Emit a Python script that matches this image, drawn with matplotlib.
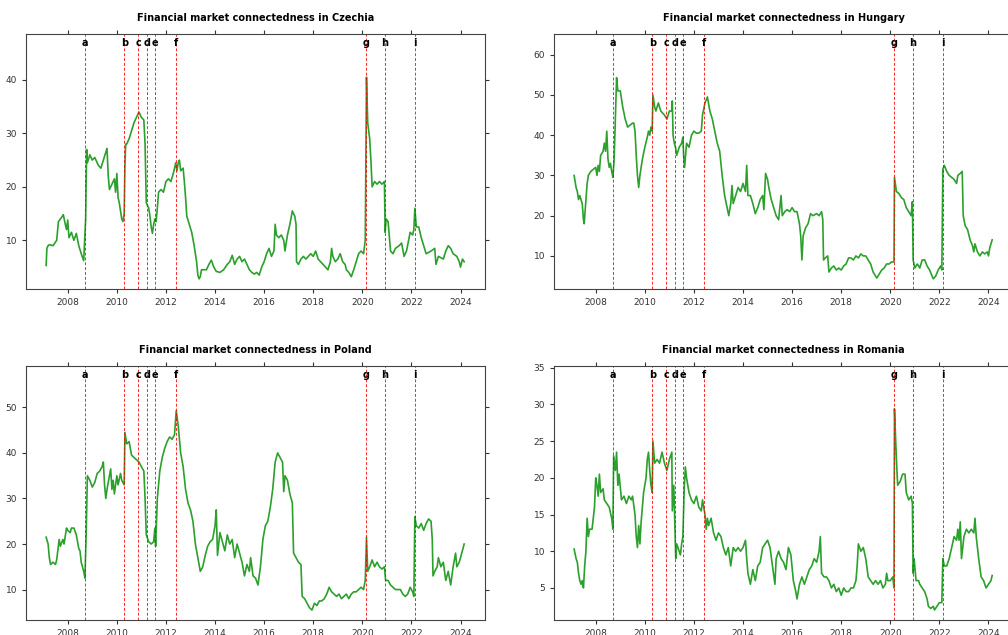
import matplotlib
matplotlib.use("Agg")
import matplotlib.pyplot as plt

# weekly connectedness index, sampled (decimal year, value)
cz_t = [2007.12, 2007.15, 2007.2, 2007.25, 2007.4, 2007.55, 2007.62, 2007.75, 2007.82, 2007.9,
        2007.95, 2008.0, 2008.05, 2008.15, 2008.25, 2008.35, 2008.45, 2008.55, 2008.65, 2008.7,
        2008.73, 2008.77, 2008.8, 2008.9, 2009.0, 2009.1, 2009.25, 2009.35, 2009.45, 2009.55,
        2009.6, 2009.65, 2009.7, 2009.8, 2009.9, 2009.95, 2010.0, 2010.05, 2010.1, 2010.15,
        2010.2, 2010.25, 2010.3, 2010.33, 2010.36, 2010.4, 2010.5, 2010.6, 2010.7, 2010.8,
        2010.9, 2011.0, 2011.1, 2011.15, 2011.2, 2011.25, 2011.3, 2011.35, 2011.4, 2011.45,
        2011.5, 2011.55, 2011.6, 2011.65, 2011.7, 2011.8, 2011.9, 2012.0, 2012.1, 2012.2,
        2012.3, 2012.4, 2012.45, 2012.5, 2012.55, 2012.6, 2012.7, 2012.75, 2012.8, 2012.85,
        2012.95, 2013.05, 2013.15, 2013.25, 2013.3, 2013.35, 2013.4, 2013.45, 2013.55, 2013.65,
        2013.75, 2013.85, 2013.95, 2014.05, 2014.2, 2014.35, 2014.5, 2014.6, 2014.7, 2014.8,
        2014.9, 2015.0, 2015.1, 2015.2, 2015.3, 2015.4, 2015.5, 2015.6, 2015.7, 2015.8,
        2015.9, 2016.0, 2016.1, 2016.2, 2016.3, 2016.4, 2016.45, 2016.5, 2016.6, 2016.7,
        2016.8, 2016.85, 2016.95, 2017.05, 2017.15, 2017.25, 2017.3, 2017.32, 2017.4, 2017.5,
        2017.6, 2017.7, 2017.8, 2017.9, 2018.0, 2018.1, 2018.2, 2018.3, 2018.4, 2018.5,
        2018.6, 2018.7, 2018.75, 2018.8, 2018.9, 2019.0, 2019.1, 2019.2, 2019.3, 2019.35,
        2019.45, 2019.55, 2019.65, 2019.75, 2019.85, 2019.95, 2020.05, 2020.12, 2020.17, 2020.22,
        2020.3, 2020.35, 2020.4, 2020.5, 2020.6, 2020.7, 2020.8, 2020.9, 2020.93, 2020.97,
        2021.05, 2021.15, 2021.25, 2021.35, 2021.5, 2021.6, 2021.7, 2021.8, 2021.95, 2022.05,
        2022.1, 2022.14, 2022.2, 2022.3, 2022.4, 2022.5, 2022.6, 2022.8, 2022.95, 2023.0,
        2023.1, 2023.3, 2023.4, 2023.5, 2023.6, 2023.7, 2023.85, 2023.95, 2024.0, 2024.08,
        2024.15]
cz_v = [5.3, 8.5, 9.0, 9.2, 9.0, 10.0, 13.5, 14.3, 14.8, 13.0,
        12.0, 13.8, 10.5, 11.5, 10.0, 11.3, 9.0, 7.5, 6.2, 11.0,
        14.0, 27.0, 24.5, 26.0, 25.0, 25.5, 24.0, 23.5, 25.0, 26.5,
        27.2, 22.0, 19.5, 20.5, 21.5, 19.0, 22.5, 18.0, 17.0, 15.5,
        14.0, 13.5, 15.0, 24.0, 28.0, 28.0, 29.0, 30.5, 32.0, 33.0,
        34.0, 33.0, 32.5, 28.0, 17.0, 16.5, 16.0, 14.5, 12.5, 11.3,
        13.0, 14.0, 13.5, 16.0, 19.0, 19.5, 19.0, 21.0, 21.5, 21.0,
        22.5, 24.5, 23.0, 24.5, 25.0, 23.0, 23.5, 21.0, 18.0, 14.5,
        13.0, 11.5, 9.0, 6.0, 3.5, 2.8, 3.2, 4.5, 4.5, 4.5,
        5.5, 6.3, 5.0, 4.2, 4.0, 4.5, 5.5, 6.0, 7.2, 5.5,
        6.5, 7.0, 6.0, 6.5, 5.5, 4.5, 4.0, 3.7, 4.0, 3.5,
        5.0, 6.0, 7.5, 8.5, 7.0, 8.0, 13.0, 11.0, 10.5, 11.0,
        10.0, 8.0, 11.0, 13.0, 15.5, 14.5, 13.0, 6.0, 5.5, 6.5,
        7.0, 6.5, 7.0, 7.5, 7.0, 8.0, 6.5, 6.0, 5.5, 5.0,
        4.5, 6.0, 8.5, 7.0, 6.0, 6.5, 7.5, 6.0, 5.5, 4.5,
        4.0, 3.2, 4.5, 6.0, 7.5, 8.0, 7.5, 10.0, 40.5, 32.0,
        29.0, 25.0, 20.0, 21.0, 20.5, 21.0, 20.5, 21.0, 11.5, 14.0,
        13.5, 8.0, 7.5, 8.5, 9.0, 9.5, 7.0, 8.0, 11.5, 11.0,
        12.0, 16.0, 12.5, 12.5, 10.5, 9.0, 7.5, 8.0, 8.5, 5.5,
        7.0, 6.5, 8.0, 9.0, 8.5, 7.5, 7.0, 6.0, 5.0, 6.5,
        6.0]

hu_t = [2007.12, 2007.2, 2007.25, 2007.3, 2007.35, 2007.45, 2007.5, 2007.53, 2007.6, 2007.65,
        2007.7, 2007.8, 2007.9, 2008.0, 2008.05, 2008.1, 2008.15, 2008.2, 2008.3, 2008.35,
        2008.4, 2008.45, 2008.5, 2008.55, 2008.6, 2008.65, 2008.7, 2008.75, 2008.8, 2008.85,
        2008.9, 2009.0, 2009.1, 2009.2, 2009.3, 2009.4, 2009.5, 2009.55, 2009.6, 2009.65,
        2009.7, 2009.75, 2009.8, 2009.9, 2010.0, 2010.1, 2010.15, 2010.2, 2010.25, 2010.3,
        2010.33, 2010.4, 2010.45, 2010.55, 2010.65, 2010.8, 2010.9, 2011.0, 2011.1, 2011.12,
        2011.15, 2011.2, 2011.25, 2011.3, 2011.4, 2011.5, 2011.55, 2011.58, 2011.62, 2011.7,
        2011.8, 2011.9, 2012.0, 2012.1, 2012.2, 2012.3, 2012.35, 2012.45, 2012.55, 2012.65,
        2012.75, 2012.85, 2012.95, 2013.05, 2013.15, 2013.25, 2013.35, 2013.42, 2013.5, 2013.55,
        2013.6, 2013.7, 2013.8, 2013.9, 2014.0, 2014.1, 2014.15, 2014.2, 2014.3, 2014.4,
        2014.5, 2014.6, 2014.7, 2014.8, 2014.85, 2014.92, 2015.0, 2015.05, 2015.15, 2015.25,
        2015.35, 2015.45, 2015.5, 2015.55, 2015.6, 2015.7, 2015.8, 2015.9, 2016.0, 2016.1,
        2016.2, 2016.3, 2016.35, 2016.4, 2016.45, 2016.55, 2016.65, 2016.75, 2016.85, 2017.0,
        2017.1, 2017.2, 2017.25, 2017.28, 2017.35, 2017.45, 2017.5, 2017.6, 2017.7, 2017.8,
        2017.9, 2018.0, 2018.1, 2018.2, 2018.3, 2018.4, 2018.5, 2018.6, 2018.7, 2018.8,
        2018.9, 2019.0, 2019.1, 2019.2, 2019.3, 2019.4, 2019.45, 2019.55, 2019.65, 2019.75,
        2019.85, 2019.95, 2020.05, 2020.15, 2020.17, 2020.25, 2020.35, 2020.45, 2020.55, 2020.65,
        2020.75, 2020.85, 2020.9, 2020.93, 2021.0, 2021.1, 2021.2, 2021.3, 2021.4, 2021.5,
        2021.6, 2021.7, 2021.75, 2021.85, 2021.95, 2022.05, 2022.1, 2022.14, 2022.2, 2022.3,
        2022.4, 2022.5, 2022.6, 2022.7, 2022.75, 2022.85, 2022.93, 2022.97, 2023.05, 2023.15,
        2023.25, 2023.35, 2023.4, 2023.45, 2023.55, 2023.65, 2023.75, 2023.85, 2023.95, 2024.0,
        2024.05, 2024.15]
hu_v = [30.0, 27.0, 26.0, 24.0, 25.0, 23.0, 19.0, 18.0, 24.0, 28.0,
        30.0, 31.0, 31.5, 32.0, 30.0, 32.5, 31.0, 35.0, 36.0, 38.0,
        36.0, 41.0, 34.0, 32.0, 33.0, 31.0, 29.5, 34.0, 44.0, 54.3,
        51.0, 51.0, 47.0, 44.0, 42.0, 42.5, 43.0, 43.0, 41.0, 35.0,
        30.0, 27.0, 30.0, 34.0, 37.0, 39.5, 41.0, 40.0, 42.0, 41.0,
        50.0, 47.0, 46.0, 48.0, 46.0, 45.0, 44.0, 46.0, 46.0, 48.5,
        40.0, 38.0, 37.0, 35.0, 37.0, 38.0, 39.5, 35.0, 32.0, 38.0,
        37.0, 40.0, 41.0, 40.5, 40.5, 41.0, 45.0, 48.0, 49.5, 46.0,
        44.0, 41.0, 38.0, 36.0, 30.0, 25.0, 22.0, 20.0, 23.0, 27.5,
        23.0, 25.0, 27.0, 26.0, 28.0, 26.0, 32.5, 25.0, 25.0, 23.0,
        20.5, 22.0, 24.0, 25.0, 21.5, 30.5, 29.0, 27.0, 24.0, 22.0,
        20.0, 19.0, 22.0, 25.0, 20.0, 21.0, 21.5, 21.0, 22.0, 21.0,
        21.0, 18.0, 15.0, 9.0, 15.0, 17.0, 18.0, 20.5, 20.0, 20.5,
        20.0, 21.0, 19.0, 9.0, 9.5, 10.0, 6.0, 7.0, 7.5, 6.5,
        7.0, 6.5, 7.5, 8.0, 9.5, 9.5, 9.0, 10.0, 9.5, 10.5,
        10.0, 10.0, 9.0, 8.0, 6.0, 5.0, 4.5, 5.5, 6.5, 7.0,
        8.0, 8.0, 8.5, 8.5, 29.5, 26.0, 25.5, 24.5, 24.0, 22.0,
        21.0, 20.0, 23.5, 9.0, 7.0, 8.0, 7.0, 9.0, 9.0, 7.5,
        6.5, 5.0, 4.3, 5.0, 6.5, 7.5, 6.5, 31.5, 32.5, 31.0,
        30.0, 29.5, 29.0, 28.0, 30.0, 30.5, 31.0, 20.0, 17.5, 16.5,
        14.0, 12.5, 11.0, 13.0, 11.0, 10.0, 11.0, 10.5, 11.0, 10.0,
        12.0, 14.0]

pl_t = [2007.12, 2007.2, 2007.25, 2007.3, 2007.4, 2007.5, 2007.55, 2007.65, 2007.7, 2007.8,
        2007.85, 2007.95, 2008.0, 2008.1, 2008.15, 2008.25, 2008.35, 2008.45, 2008.5, 2008.55,
        2008.65, 2008.7, 2008.75, 2008.8, 2008.9, 2009.0, 2009.1, 2009.2, 2009.3, 2009.4,
        2009.45, 2009.5, 2009.55, 2009.6, 2009.7, 2009.75, 2009.8, 2009.85, 2009.9, 2010.0,
        2010.05, 2010.15, 2010.2, 2010.3, 2010.33, 2010.4, 2010.5, 2010.6, 2010.7, 2010.8,
        2010.9, 2011.0, 2011.1, 2011.15, 2011.2, 2011.3, 2011.4, 2011.5, 2011.55, 2011.58,
        2011.65, 2011.75, 2011.85, 2011.95, 2012.05, 2012.15, 2012.25, 2012.35, 2012.42, 2012.5,
        2012.55, 2012.6, 2012.7, 2012.8, 2012.9, 2013.0, 2013.1, 2013.2, 2013.3, 2013.4,
        2013.5, 2013.6, 2013.7, 2013.8, 2013.9, 2014.0, 2014.05, 2014.1, 2014.2, 2014.3,
        2014.4, 2014.5, 2014.6, 2014.7, 2014.8, 2014.9, 2015.0, 2015.1, 2015.2, 2015.3,
        2015.4, 2015.45, 2015.55, 2015.65, 2015.75, 2015.85, 2015.95, 2016.05, 2016.15, 2016.25,
        2016.35, 2016.45, 2016.55, 2016.65, 2016.75, 2016.8, 2016.85, 2016.95, 2017.05, 2017.15,
        2017.2, 2017.3, 2017.4, 2017.5, 2017.55, 2017.65, 2017.75, 2017.85, 2017.95, 2018.05,
        2018.15, 2018.25, 2018.35, 2018.45, 2018.55, 2018.65, 2018.75, 2018.85, 2018.95, 2019.05,
        2019.15, 2019.25, 2019.35, 2019.45, 2019.55, 2019.65, 2019.75, 2019.85, 2019.95, 2020.05,
        2020.12, 2020.17, 2020.22, 2020.3, 2020.4, 2020.5, 2020.6, 2020.7, 2020.8, 2020.9,
        2020.95, 2021.05, 2021.15, 2021.25, 2021.35, 2021.45, 2021.55, 2021.65, 2021.75, 2021.85,
        2021.95, 2022.05, 2022.1, 2022.14, 2022.2, 2022.3, 2022.4, 2022.5, 2022.6, 2022.7,
        2022.8, 2022.85, 2022.88, 2022.95, 2023.05, 2023.1, 2023.2, 2023.3, 2023.4, 2023.5,
        2023.6, 2023.7, 2023.8, 2023.85, 2023.95, 2024.05, 2024.15]
pl_v = [21.5, 20.0, 17.0, 15.5, 16.0, 15.5, 16.5, 21.0, 19.5, 21.0,
        20.0, 23.5, 23.0, 22.5, 23.5, 23.5, 22.0, 19.0, 18.5, 16.0,
        14.0, 12.5, 22.0, 35.0, 34.0, 32.5, 33.5, 35.5, 36.0, 37.0,
        38.0, 33.0, 30.0, 32.0, 35.0, 36.5, 32.0, 34.0, 31.0, 35.0,
        33.0, 35.5, 34.0, 33.0, 44.5, 42.0, 42.5, 39.5, 39.0, 38.5,
        38.0, 37.0, 36.0, 30.0, 22.0, 20.5, 20.0, 20.5, 23.5, 19.5,
        30.0, 36.0, 39.0, 41.0, 42.5, 43.5, 43.0, 44.0, 49.3, 46.0,
        43.0, 40.0, 37.0, 32.0, 29.0, 27.5, 25.0, 20.0, 17.0, 14.0,
        15.0, 17.5, 19.5, 20.5, 21.0, 24.0, 27.5, 17.5, 22.5, 20.5,
        18.5, 22.0, 20.0, 21.0, 17.0, 20.0, 18.0, 16.0, 13.0, 15.5,
        14.0, 17.0, 13.0, 12.5, 11.0, 15.0, 21.0, 24.0, 25.0, 28.0,
        32.0, 38.0, 40.0, 39.0, 38.0, 31.5, 35.0, 34.0, 31.0, 29.0,
        18.0, 17.0, 16.0, 15.5, 8.5, 8.0, 7.0, 6.0, 5.5, 7.0,
        6.5, 7.5, 7.5, 8.0, 9.0, 10.5, 9.5, 9.0, 8.5, 9.0,
        8.0, 8.5, 9.0, 8.0, 9.0, 9.5, 9.5, 10.0, 10.5, 10.0,
        12.0, 21.5, 14.0, 15.0, 16.5, 15.0, 16.0, 15.0, 14.5, 15.0,
        12.0, 12.0, 11.0, 10.5, 10.0, 10.0, 10.0, 9.0, 8.5, 9.0,
        10.5, 9.5, 8.5, 26.0, 24.0, 23.5, 24.5, 23.0, 24.5, 25.5,
        25.0, 21.0, 13.0, 14.0, 15.0, 17.0, 15.0, 16.0, 12.0, 14.0,
        11.0, 15.0, 18.0, 15.0, 16.0, 18.0, 20.0]

ro_t = [2007.12, 2007.2, 2007.25, 2007.3, 2007.35, 2007.4, 2007.45, 2007.5, 2007.55, 2007.6,
        2007.65, 2007.7, 2007.75, 2007.85, 2007.95, 2008.0, 2008.05, 2008.1, 2008.15, 2008.2,
        2008.3, 2008.35, 2008.45, 2008.55, 2008.65, 2008.7, 2008.73, 2008.8, 2008.85, 2008.9,
        2008.95, 2009.05, 2009.15, 2009.25, 2009.35, 2009.45, 2009.5, 2009.6, 2009.65, 2009.7,
        2009.75, 2009.8, 2009.85, 2009.95, 2010.05, 2010.1, 2010.15, 2010.2, 2010.25, 2010.3,
        2010.33, 2010.4, 2010.5, 2010.6, 2010.7, 2010.8, 2010.9, 2011.0, 2011.1, 2011.12,
        2011.18, 2011.26, 2011.3, 2011.4, 2011.45, 2011.5, 2011.55, 2011.6, 2011.65, 2011.7,
        2011.8, 2011.9, 2012.0, 2012.1, 2012.2, 2012.3, 2012.35, 2012.4, 2012.45, 2012.5,
        2012.55, 2012.6, 2012.7, 2012.8, 2012.9, 2013.0, 2013.1, 2013.2, 2013.3, 2013.4,
        2013.5, 2013.6, 2013.7, 2013.8, 2013.9, 2014.0, 2014.1, 2014.15, 2014.2, 2014.3,
        2014.4, 2014.5, 2014.6, 2014.7, 2014.8, 2014.9, 2015.0, 2015.1, 2015.2, 2015.3,
        2015.35, 2015.45, 2015.55, 2015.65, 2015.75, 2015.85, 2015.95, 2016.05, 2016.15, 2016.2,
        2016.3, 2016.4, 2016.5, 2016.6, 2016.7, 2016.8, 2016.9, 2017.0, 2017.1, 2017.15,
        2017.2, 2017.3, 2017.4, 2017.5, 2017.6, 2017.7, 2017.8, 2017.9, 2018.0, 2018.1,
        2018.2, 2018.3, 2018.4, 2018.5, 2018.6, 2018.65, 2018.7, 2018.8, 2018.9, 2019.0,
        2019.1, 2019.2, 2019.3, 2019.4, 2019.5, 2019.6, 2019.7, 2019.8, 2019.85, 2019.9,
        2020.0, 2020.1, 2020.15, 2020.17, 2020.22, 2020.27, 2020.3, 2020.4, 2020.5, 2020.6,
        2020.65, 2020.75, 2020.85, 2020.9, 2020.93, 2020.97, 2021.05, 2021.15, 2021.2, 2021.3,
        2021.4, 2021.5, 2021.55, 2021.65, 2021.75, 2021.8, 2021.9, 2022.0, 2022.1, 2022.14,
        2022.2, 2022.3, 2022.4, 2022.5, 2022.6, 2022.7, 2022.75, 2022.8, 2022.85, 2022.9,
        2023.0, 2023.1, 2023.2, 2023.3, 2023.4, 2023.45, 2023.5, 2023.6, 2023.7, 2023.8,
        2023.9, 2024.0, 2024.1, 2024.15]
ro_v = [10.3, 9.0, 8.5, 7.0, 6.0, 5.5, 6.0, 5.0, 8.0, 10.0,
        14.5, 12.0, 13.0, 13.0, 16.0, 20.0, 19.0, 17.5, 20.5, 18.0,
        18.5, 17.0, 16.5, 16.0, 14.5, 13.0, 23.0, 21.0, 23.5, 19.0,
        20.5, 17.0, 17.5, 16.5, 17.5, 17.0, 17.5, 15.0, 12.0, 10.5,
        13.5, 11.0, 14.0, 18.0, 20.0, 22.5, 23.5, 21.0, 19.0, 18.0,
        25.0, 22.0, 22.5, 22.0, 23.5, 22.0, 21.0, 22.5, 23.5, 15.5,
        19.0, 9.0, 11.0, 10.0, 9.5, 11.0, 12.0, 18.0, 21.5, 20.0,
        18.0, 17.0, 16.5, 17.5, 16.0, 15.5, 17.0, 16.0, 15.0, 13.0,
        14.5, 13.5, 14.5, 12.5, 11.5, 12.5, 12.0, 10.5, 9.5, 10.5,
        8.0, 10.5, 10.0, 10.5, 10.0, 10.5, 11.5, 9.0, 7.0, 5.5,
        7.5, 6.0, 8.0, 8.5, 10.5, 11.0, 11.5, 10.5, 8.0, 5.5,
        9.0, 10.0, 9.0, 8.5, 7.5, 10.5, 9.5, 6.0, 4.5, 3.5,
        5.5, 6.5, 5.5, 6.5, 7.5, 8.0, 9.0, 8.5, 10.0, 12.0,
        7.0, 6.5, 6.5, 6.0, 5.0, 5.5, 4.5, 5.0, 4.0, 5.0,
        4.5, 4.5, 5.0, 5.0, 6.0, 8.0, 11.0, 10.0, 10.5, 9.0,
        6.5, 6.0, 5.5, 6.0, 5.5, 6.0, 5.0, 5.5, 7.0, 6.0,
        6.0, 6.5, 5.0, 29.4, 25.0, 21.0, 19.0, 19.5, 20.5, 20.5,
        18.0, 17.0, 17.5, 16.5, 7.0, 9.0, 6.0, 6.0, 5.5, 5.0,
        4.5, 3.5, 2.5, 2.2, 2.5, 2.0, 2.5, 3.0, 3.0, 9.0,
        8.0, 8.0, 9.0, 10.5, 12.0, 11.5, 13.0, 11.5, 14.0, 9.0,
        12.0, 13.0, 12.5, 13.0, 12.5, 14.5, 12.0, 9.0, 6.5, 6.0,
        5.0, 5.5, 6.0, 6.7]

# event markers
event_labels = ["a", "b", "c", "d", "e", "f", "g", "h", "i"]
event_years = [2008.69, 2010.31, 2010.88, 2011.24, 2011.57, 2012.41, 2020.17, 2020.92, 2022.14]

panels = [
    ("Czechia", cz_t, cz_v),
    ("Hungary", hu_t, hu_v),
    ("Poland", pl_t, pl_v),
    ("Romania", ro_t, ro_v),
]

fig = plt.figure(figsize=(10.08, 6.35), dpi=100)
positions = [
    [0.0258, 0.545, 0.4554, 0.4016],
    [0.5496, 0.545, 0.4554, 0.4016],
    [0.0258, 0.0236, 0.4554, 0.4005],
    [0.5496, 0.0236, 0.4554, 0.4005],
]

for (country, t, v), pos in zip(panels, positions):
    ax = fig.add_axes(pos)
    ax.plot(t, v, color="#2ca02c", lw=1.2)
    for lab, yr in zip(event_labels, event_years):
        ax.axvline(yr, color="red", lw=0.7, ls=(0, (3, 2)), alpha=0.85)
        ax.text(yr, 0.965, lab, transform=ax.get_xaxis_transform(),
                ha="center", va="center", fontsize=7, fontweight="bold")
    vmin, vmax = min(v), max(v)
    ax.set_ylim(vmin - 0.05 * (vmax - vmin), vmax * 1.2)
    ax.set_xlim(2006.3, 2025.0)
    ax.set_xticks(range(2008, 2025, 2))
    ax.tick_params(labelsize=6.5, top=True, right=True, colors="#333333",
                   length=3, width=0.8)
    for s in ax.spines.values():
        s.set_color("#444444")
    ax.set_title(f"Financial market connectedness in {country}",
                 fontsize=7, fontweight="bold", pad=9)

fig.savefig("out.png", dpi=100)
